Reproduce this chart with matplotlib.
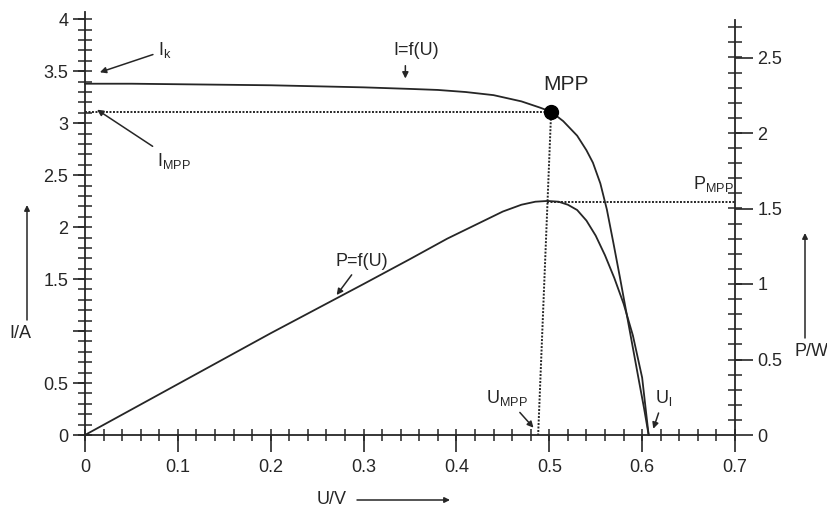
import numpy as np
import matplotlib.pyplot as plt
from matplotlib.ticker import MultipleLocator, FixedLocator

plt.rcParams['font.family'] = ['Liberation Sans', 'DejaVu Sans']
plt.rcParams['mathtext.fontset'] = 'custom'
plt.rcParams['mathtext.rm'] = 'Liberation Sans'

ink = '#262626'

# current over voltage, I = f(U)
u_i = [0.0, 0.05, 0.10, 0.15, 0.20, 0.25, 0.30, 0.35, 0.38, 0.41, 0.44, 0.47,
       0.49, 0.502, 0.515, 0.53, 0.54, 0.547, 0.555, 0.562, 0.569, 0.576,
       0.583, 0.590, 0.597, 0.602, 0.607]
i_a = [3.38, 3.38, 3.375, 3.37, 3.365, 3.355, 3.345, 3.33, 3.32, 3.30, 3.27, 3.21,
       3.15, 3.11, 3.02, 2.88, 2.74, 2.62, 2.42, 2.17, 1.85, 1.52,
       1.18, 0.84, 0.50, 0.26, 0.0]

# power over voltage, P = f(U)
u_p = [0.0, 0.10, 0.20, 0.30, 0.35, 0.39, 0.42, 0.45, 0.47, 0.485, 0.498,
       0.51, 0.52, 0.53, 0.54, 0.55, 0.56, 0.57, 0.58, 0.59, 0.60, 0.607]
p_w = [0.0, 0.337, 0.674, 1.0, 1.165, 1.30, 1.39, 1.48, 1.525, 1.545, 1.55,
       1.545, 1.525, 1.49, 1.42, 1.32, 1.19, 1.04, 0.87, 0.66, 0.38, 0.0]

# maximum power point
u_mpp = 0.502
u_mpp_foot = 0.488
u_p_peak = 0.498
i_mpp = 3.11
p_mpp = 1.54

x_ticks = [0, 0.1, 0.2, 0.3, 0.4, 0.5, 0.6, 0.7]
x_labels = ['0', '0.1', '0.2', '0.3', '0.4', '0.5', '0.6', '0.7']
i_ticks = [0, 0.5, 1, 1.5, 2, 2.5, 3, 3.5, 4]
i_labels = ['0', '0.5', '', '1.5', '2', '2.5', '3', '3.5', '4']
p_ticks = [0, 0.5, 1, 1.5, 2, 2.5]
p_labels = ['0', '0.5', '1', '1.5', '2', '2.5']

fig = plt.figure(figsize=(8.28, 5.12), dpi=100)
ax = fig.add_axes([85/828, 1 - 435/512, 650/828, 423/512])
ax2 = ax.twinx()

ax.set_xlim(0, 0.7)
ax.set_ylim(0, 4.07)
ax2.set_ylim(0, 423/151)

for s in ['top', 'right']:
    ax.spines[s].set_visible(False)
for s in ['top', 'left', 'bottom']:
    ax2.spines[s].set_visible(False)
for sp in [ax.spines['left'], ax.spines['bottom'], ax2.spines['right']]:
    sp.set_color(ink)
    sp.set_linewidth(1.3)
ax2.spines['right'].set_bounds(0, 2.75)

ax.set_xticks(x_ticks, x_labels)
ax.xaxis.set_minor_locator(MultipleLocator(0.02))
ax.set_yticks(i_ticks, i_labels)
ax.yaxis.set_minor_locator(MultipleLocator(0.1))
ax2.set_yticks(p_ticks, p_labels)
ax2.yaxis.set_minor_locator(FixedLocator(np.arange(0.1, 2.71, 0.1)))
for a in [ax.xaxis, ax.yaxis, ax2.yaxis]:
    a.remove_overlapping_locs = False

ax.tick_params(axis='x', which='major', direction='out', length=12, width=1.2,
               color=ink, labelcolor=ink, labelsize=13, pad=5)
ax.tick_params(axis='x', which='minor', direction='inout', length=9, width=1.1, color=ink)
ax.tick_params(axis='y', which='major', direction='out', length=9, width=1.2,
               color=ink, labelcolor=ink, labelsize=13, pad=3)
ax.tick_params(axis='y', which='minor', direction='inout', length=10, width=1.1, color=ink)
ax2.tick_params(axis='y', which='major', direction='out', length=13, width=1.2,
                color=ink, labelcolor=ink, labelsize=13, pad=3)
ax2.tick_params(axis='y', which='minor', direction='inout', length=10, width=1.1, color=ink)

# curves
ax.plot(u_i, i_a, color=ink, lw=1.3, clip_on=False, solid_joinstyle='round')
ax2.plot(u_p, p_w, color=ink, lw=1.3, clip_on=False, solid_joinstyle='round')

# MPP guide lines
dot = (0, (1, 0.8))
ax.plot([0, u_mpp], [i_mpp, i_mpp], color=ink, lw=1.4, ls=dot)
ax.plot([u_mpp, u_mpp_foot], [i_mpp, 0], color=ink, lw=1.4, ls=dot)
ax2.plot([u_p_peak, 0.7], [p_mpp, p_mpp], color=ink, lw=1.4, ls=dot)
ax.plot(u_mpp, i_mpp, 'o', color='black', ms=10, zorder=5)

arr = dict(arrowstyle='-|>', color=ink, lw=1.1, mutation_scale=9, shrinkA=2, shrinkB=0)
fs = 13

ax.annotate(r'I$_\mathregular{k}$', xy=(0.016, 3.49), xytext=(0.079, 3.70),
            ha='left', va='center', fontsize=fs, color=ink, arrowprops=arr)
ax.annotate(r'I$_\mathregular{MPP}$', xy=(0.013, 3.13), xytext=(0.078, 2.64),
            ha='left', va='center', fontsize=fs, color=ink, arrowprops=arr)
ax.text(0.357, 3.70, 'I=f(U)', ha='center', va='center', fontsize=fs, color=ink)
ax.annotate('', xy=(0.345, 3.43), xytext=(0.345, 3.58), arrowprops=arr)
ax.text(0.518, 3.37, 'MPP', ha='center', va='center', fontsize=15, color=ink)
ax2.annotate('P=f(U)', xy=(0.271, 0.927), xytext=(0.298, 1.15),
             ha='center', va='center', fontsize=fs, color=ink, arrowprops=arr)
ax.annotate(r'U$_\mathregular{MPP}$', xy=(0.483, 0.07), xytext=(0.454, 0.36),
            ha='center', va='center', fontsize=fs, color=ink, arrowprops=arr)
ax.annotate(r'U$_\mathregular{l}$', xy=(0.612, 0.06), xytext=(0.614, 0.36),
            ha='left', va='center', fontsize=fs, color=ink, arrowprops=arr)
ax2.text(0.655, 1.66, r'P$_\mathregular{MPP}$', ha='left', va='center',
         fontsize=fs, color=ink)

# axis titles with arrows
fig.text(20/828, 1 - 333/512, 'I/A', ha='center', va='center', fontsize=fs, color=ink)
fig.text(332/828, 1 - 500/512, 'U/V', ha='center', va='center', fontsize=fs, color=ink)
fig.text(812/828, 1 - 352/512, 'P/W', ha='center', va='center', fontsize=fs, color=ink)
farr = dict(arrowstyle='-|>', color=ink, lw=1.1, mutation_scale=8, shrinkA=0, shrinkB=0)
ax.annotate('', xy=(27/828, 1 - 205/512), xytext=(27/828, 1 - 320/512),
            xycoords='figure fraction', textcoords='figure fraction', arrowprops=farr)
ax.annotate('', xy=(450/828, 1 - 500/512), xytext=(357/828, 1 - 500/512),
            xycoords='figure fraction', textcoords='figure fraction', arrowprops=farr)
ax.annotate('', xy=(805/828, 1 - 233/512), xytext=(805/828, 1 - 338/512),
            xycoords='figure fraction', textcoords='figure fraction', arrowprops=farr)

fig.savefig('out.png', dpi=100)
